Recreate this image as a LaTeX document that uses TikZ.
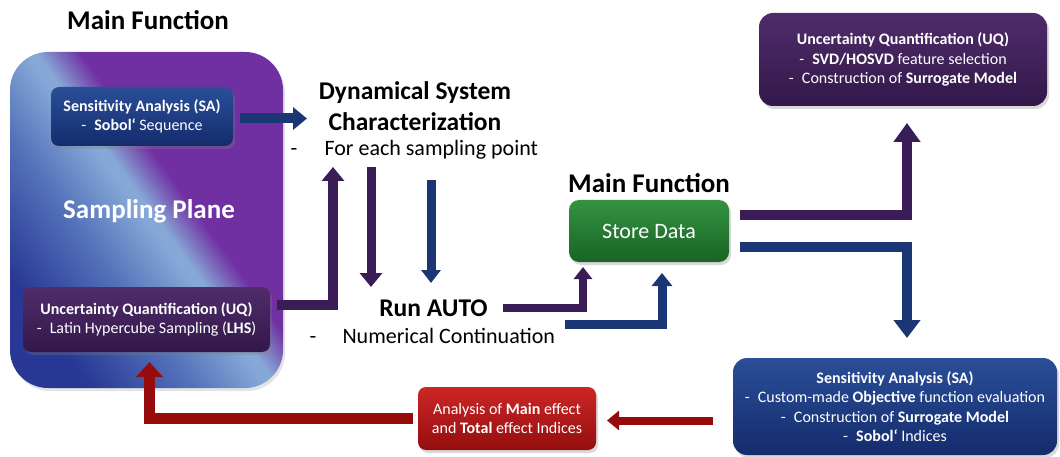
\documentclass[tikz,border=0pt]{standalone}
\usepackage{fontspec}
\setmainfont{Carlito}
\usetikzlibrary{arrows.meta,shadows}

% arrow colours
\definecolor{arrowpurple}{RGB}{58,28,86}
\definecolor{arrowblue}{RGB}{26,54,116}
\definecolor{arrowred}{RGB}{150,12,12}
% box colours
\definecolor{bluetop}{RGB}{42,78,152}
\definecolor{bluebot}{RGB}{20,44,108}
\definecolor{purpletop}{RGB}{80,44,106}
\definecolor{purplebot}{RGB}{50,24,74}
\definecolor{greentop}{RGB}{52,146,66}
\definecolor{greenbot}{RGB}{24,100,36}
\definecolor{redtop}{RGB}{204,38,38}
\definecolor{redbot}{RGB}{148,14,14}
% sampling plane colours
\definecolor{planedark}{RGB}{40,56,148}
\definecolor{planemid}{RGB}{84,114,186}
\definecolor{planelight}{RGB}{134,168,214}
\definecolor{planepurple}{RGB}{112,48,162}

\pgfdeclarehorizontalshading{planeshade}{100bp}{color(0bp)=(planedark); color(26bp)=(planedark); color(40bp)=(planemid); color(50bp)=(planelight); color(51.5bp)=(planelight); color(57.5bp)=(planepurple); color(100bp)=(planepurple)}

\tikzset{
  titletext/.style={font=\fontsize{25.5}{30}\selectfont\bfseries},
  headtext/.style={font=\fontsize{27}{32}\selectfont\bfseries},
  subtext/.style={font=\fontsize{22}{26}\selectfont},
  box/.style={rounded corners=8pt, text=white, align=center, inner sep=0pt,
    font=\fontsize{16}{19.5}\selectfont,
    drop shadow={opacity=0.3, shadow xshift=2pt, shadow yshift=-3pt}},
  bluebox/.style={box, top color=bluetop, bottom color=bluebot},
  purplebox/.style={box, top color=purpletop, bottom color=purplebot},
  greenbox/.style={box, top color=greentop, bottom color=greenbot},
  redbox/.style={box, top color=redtop, bottom color=redbot},
  planebox/.style={rounded corners=38pt, shading=planeshade, shading angle=36,
    drop shadow={opacity=0.22, shadow xshift=2pt, shadow yshift=-3pt}},
  arr/.style={line width=10pt, line join=miter, -{Triangle[width=22pt,length=14pt]}},
  arrP/.style={arr, draw=arrowpurple},
  arrB/.style={arr, draw=arrowblue},
  arrR/.style={arr, draw=arrowred},
}

\begin{document}
\begin{tikzpicture}[x=1pt,y=1pt]
\useasboundingbox (0,0) rectangle (1060,-457);

% left block: sampling plane
\node[headtext] (mf1) at (148,-20) {Main Function};
\node[planebox, minimum width=273pt, minimum height=336pt] (plane) at (146.5,-220) {};
\node[text=white, font=\fontsize{27}{32}\selectfont\bfseries] (splabel) at (149,-211) {Sampling Plane};
\node[bluebox, minimum width=182pt, minimum height=59pt] (sa1) at (142,-116.5)
  {\textbf{Sensitivity Analysis (SA)}\\\makebox[13pt][l]{-}\textbf{Sobol\char"60} Sequence};
\node[purplebox, minimum width=247pt, minimum height=65pt] (uq1) at (146.5,-319.5)
  {\textbf{Uncertainty Quantification (UQ)}\\\makebox[13pt][l]{-}Latin Hypercube Sampling (\textbf{LHS})};

% middle texts
\node[align=center, font=\fontsize{25.5}{31}\selectfont\bfseries] (dsc) at (415,-106) {Dynamical System\\Characterization};
\node[subtext, anchor=west] (dscsub) at (287,-150) {\makebox[34pt][l]{-}For each sampling point};
\node[titletext] (run) at (433.5,-308) {Run AUTO};
\node[subtext, anchor=west] (runsub) at (306,-336) {\makebox[33pt][l]{-}Numerical Continuation};

% store data
\node[headtext] (mf2) at (649,-183) {Main Function};
\node[greenbox, minimum width=160pt, minimum height=62pt, rounded corners=10pt,
  font=\fontsize{22}{26}\selectfont] (store) at (649,-231) {Store Data};

% right boxes
\node[purplebox, minimum width=288pt, minimum height=93pt, rounded corners=14pt] (uq2) at (903,-59.5)
  {\textbf{Uncertainty Quantification (UQ)}\\
   \makebox[13pt][l]{-}\textbf{SVD/HOSVD} feature selection\\
   \makebox[13pt][l]{-}Construction of \textbf{Surrogate Model}};
\node[bluebox, minimum width=324pt, minimum height=97pt, rounded corners=14pt] (sa2) at (895,-406.5)
  {\textbf{Sensitivity Analysis (SA)}\\
   \makebox[13pt][l]{-}Custom-made \textbf{Objective} function evaluation\\
   \makebox[13pt][l]{-}Construction of \textbf{Surrogate Model}\\
   \makebox[13pt][l]{-}\textbf{Sobol\char"60} Indices};
\node[redbox, minimum width=178pt, minimum height=63pt] (ana) at (507,-418.5)
  {Analysis of \textbf{Main} effect\\and \textbf{Total} effect Indices};

% connector end points and bends
\coordinate (dscin) at (307,-118.5);
\coordinate (bendB) at (333,-304.5);
\coordinate (dscinB) at (333,-167);
\coordinate (downPs) at (371,-167);
\coordinate (downPe) at (371,-287);
\coordinate (downBs) at (431,-180);
\coordinate (downBe) at (431,-283);
\coordinate (bendE) at (583,-308);
\coordinate (storeinP) at (583,-267);
\coordinate (runsubout) at (565,-324);
\coordinate (bendF) at (662,-324);
\coordinate (storeinB) at (662,-273);
\coordinate (bendG) at (907,-215);
\coordinate (uq2in) at (907,-123);
\coordinate (bendH) at (907,-247);
\coordinate (sa2in) at (907,-338);
\coordinate (anain) at (607,-420.5);
\coordinate (bendJ) at (149.5,-418);
\coordinate (uq1in) at (149.5,-362);

% connectors
\draw[arrB] ([shift={(7,-2)}]sa1.east) -- (dscin);
\draw[arrP] ([shift={(7,15)}]uq1.east) -- (bendB) -- (dscinB);
\draw[arrP, line width=9pt] (downPs) -- (downPe);
\draw[arrB, line width=9pt, -{Triangle[width=19pt,length=13pt]}] (downBs) -- (downBe);
\draw[arrP, line width=8pt, -{Triangle[width=18pt,length=12pt]}] ([xshift=12pt]run.east) -- (bendE) -- (storeinP);
\draw[arrB, line width=9pt, -{Triangle[width=20pt,length=13pt]}] (runsubout) -- (bendF) -- (storeinB);
\draw[arrP, -{Triangle[width=26pt,length=19pt]}] ([shift={(11,16)}]store.east) -- (bendG) -- (uq2in);
\draw[arrB, -{Triangle[width=26pt,length=18pt]}] ([shift={(11,-16)}]store.east) -- (bendH) -- (sa2in);
\draw[arrR, line width=8pt, -{Triangle[width=19pt,length=12pt]}] ([shift={(-20,-14)}]sa2.west) -- (anain);
\draw[arrR, line width=11pt, -{Triangle[width=26pt,length=15pt]}] ([xshift=-5pt]ana.west |- bendJ) -- (bendJ) -- (uq1in);
\end{tikzpicture}
\end{document}
